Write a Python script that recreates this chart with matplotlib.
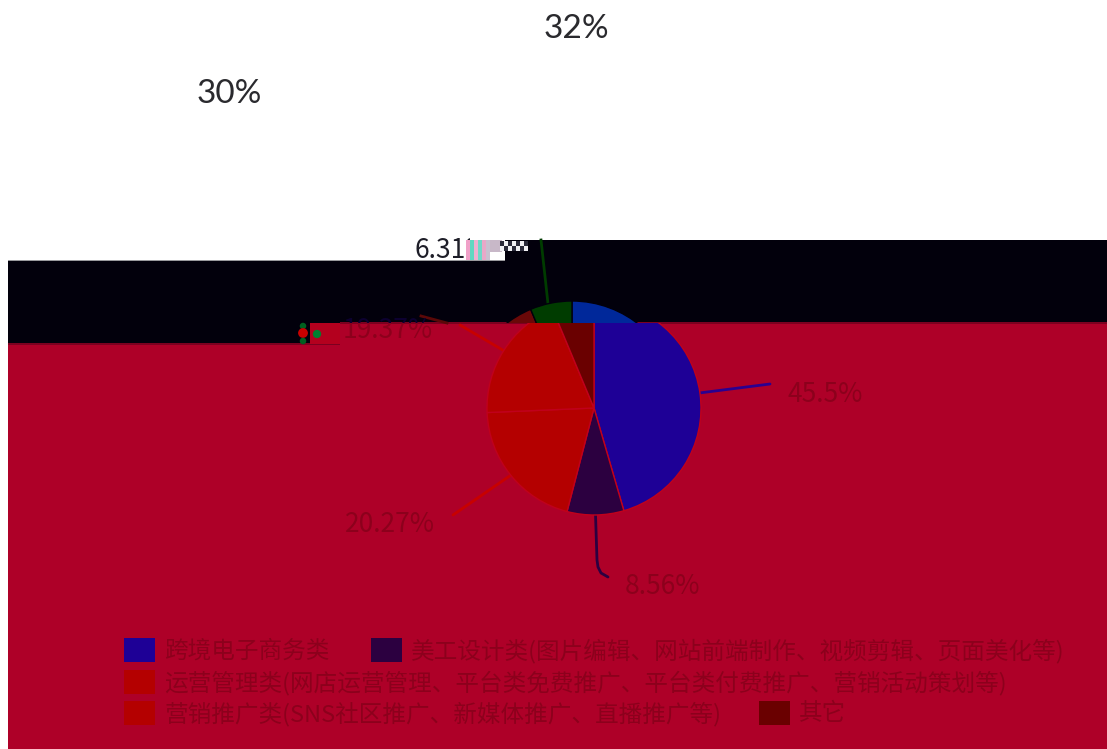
import matplotlib
matplotlib.use("Agg")
import numpy as np
import matplotlib.pyplot as plt
from matplotlib.patches import Rectangle, Polygon

# Data
shares = [45.5, 8.56, 20.27, 19.37, 6.31]
share_labels = ["45.5%", "8.56%", "20.27%", "19.37%", "6.31%"]
legend_names = ["跨境电子商务类",
                "美工设计类(图片编辑、网站前端制作、视频剪辑、页面美化等)",
                "运营管理类(网店运营管理、平台类免费推广、平台类付费推广、营销活动策划等)",
                "营销推广类(SNS社区推广、新媒体推广、直播推广等)",
                "其它"]
top_labels = ["32%", "30%"]

# Colours
WHITE = "#ffffff"
BLACK = "#02000c"
CRIMSON = "#ae0028"
TEXT_RED = "#8c001c"
main_colors = ["#1e0096", "#2c0040", "#b40000", "#b40000", "#6a0000"]
band_colors = ["#00289a", "#2c0040", "#b40000", "#6a0808", "#003c00"]

W, H = 1107, 749
CJK = ["Noto Sans CJK SC", "DejaVu Sans"]
fig = plt.figure(figsize=(W / 100, H / 100), dpi=100, facecolor=WHITE)
ax = fig.add_axes([0, 0, 1, 1])
ax.set_xlim(0, W)
ax.set_ylim(0, H)
ax.axis("off")


def py(y):
    # picture rows run downwards, the axes run upwards
    return H - y


# Background blocks: crimson page and the black displaced band
ax.add_patch(Rectangle((8, 0), W - 8, py(323), fc=CRIMSON, ec="none", zorder=1))
ax.add_patch(Polygon([(8, py(260)), (505, py(260)), (505, py(240)), (W, py(240)), (W, py(323)),
                      (340, py(323)), (340, py(344)), (8, py(344))],
                     fc=BLACK, ec="none", zorder=2))
ax.add_patch(Rectangle((8, py(261)), 497, 1, fc="#9a9a9e", ec="none", zorder=3))
ax.add_patch(Rectangle((8, py(345)), 332, 2, fc="#7c0020", ec="none", zorder=3))
ax.add_patch(Rectangle((340, py(324)), W - 340, 2, fc="#7c0020", ec="none", zorder=3))
ax.add_patch(Rectangle((310, py(344)), 30, 21, fc="#b4001e", ec="none", zorder=3))

below = Rectangle((8, 0), W - 8, py(323), transform=ax.transData)
inside = Rectangle((8, py(323)), W - 8, 83, transform=ax.transData)


def clip_to(artist, box):
    artist.set_clip_on(True)
    artist.set_clip_path(box)


# The pie, once in place and once shifted inside the band
R = 107
cx, cy = 594, 408
wedges, _ = ax.pie(shares, colors=main_colors, startangle=90, counterclock=False,
                   center=(cx, py(cy)), radius=R, frame=True,
                   wedgeprops={"edgecolor": "#c0001c", "linewidth": 1})
for w in wedges:
    w.set_zorder(4)
    clip_to(w, below)

cx2 = 572
wedges2, _ = ax.pie(shares, colors=band_colors, startangle=90, counterclock=False,
                    center=(cx2, py(cy)), radius=R, frame=True,
                    wedgeprops={"edgecolor": "#02000c", "linewidth": 1})
for w in wedges2:
    w.set_zorder(4)
    clip_to(w, inside)

ax.set_xlim(0, W)
ax.set_ylim(0, H)
ax.set_aspect("auto")
ax.axis("off")

# Leader lines start on the rim at each slice's middle angle
fractions = np.array(shares) / sum(shares)
mids = (np.cumsum(fractions) - fractions / 2) * 2 * np.pi


def rim(i, x0):
    return x0 + R * np.sin(mids[i]), py(cy) + R * np.cos(mids[i])


leader_paths = [[(770, 384)],
                [(597, 560), (598, 567), (601, 573), (608, 577)],
                [(453, 515)],
                [(460, 325)]]
leader_colors = ["#2a0090", "#2c0040", "#c80000", "#c80000"]
for i, path in enumerate(leader_paths):
    x0, y0 = rim(i, cx)
    xs = [x0] + [p[0] for p in path]
    ys = [y0] + [py(p[1]) for p in path]
    line, = ax.plot(xs, ys, color=leader_colors[i], lw=2, zorder=3.5, solid_capstyle="round")
    clip_to(line, below)

x0, y0 = rim(4, cx2)
ax.plot([x0 - 3, 541], [y0, py(240)], color="#003c00", lw=2, zorder=3.5)
ax.plot([447, 421], [py(323), py(316)], color="#5a0808", lw=2, zorder=3.5)

# Slice labels
ax.text(788, py(394), share_labels[0], color=TEXT_RED, fontsize=19, family=CJK, va="center", zorder=5)
ax.text(625, py(586), share_labels[1], color=TEXT_RED, fontsize=19, family=CJK, va="center", zorder=5)
ax.text(345, py(524), share_labels[2], color=TEXT_RED, fontsize=19, family=CJK, va="center", zorder=5)
t = ax.text(343, py(331), share_labels[3], color=TEXT_RED, fontsize=19, family=CJK, va="center", zorder=5)
clip_to(t, below)
t = ax.text(343, py(331), share_labels[3], color="#0c0030", fontsize=19, family=CJK, va="center", zorder=5)
clip_to(t, inside)
t = ax.text(414, py(251), share_labels[4], color="#1e1e28", fontsize=19, family=CJK, va="center", zorder=5)
clip_to(t, Rectangle((0, py(262)), 470, 40, transform=ax.transData))

# Broken bits beside the 6.31% label
stripe_colors = ["#f0a0c8", "#60d8c0", "#f0b0d0", "#70d8c8", "#e8a8c8", "#c8c0d0"]
for k, c in enumerate(stripe_colors):
    ax.add_patch(Rectangle((466 + 4 * k, py(260)), 4, 20, fc=c, ec="none", zorder=6))
ax.add_patch(Rectangle((490, py(252)), 12, 12, fc="#c8b8c8", ec="none", zorder=6))
for k in range(7):
    for j in range(2):
        if (k + j) % 2 == 0:
            ax.add_patch(Rectangle((500 + 4 * k, py(246 + 5 * j)), 4, 5, fc="#2a2a3a", ec="none", zorder=6))
        else:
            ax.add_patch(Rectangle((500 + 4 * k, py(246 + 5 * j)), 4, 5, fc="#f0f0f4", ec="none", zorder=6))
ax.scatter([303, 303, 303, 317], [py(326), py(333), py(341), py(334)], s=[22, 50, 22, 36],
           c=["#006020", "#c80000", "#006020", "#008030"], linewidths=0, zorder=6)

# Flowing legend, three rows
swatch_x = [124, 371, 124, 124, 759]
swatch_y = [638, 638, 670, 701, 701]
text_x = [164, 411, 164, 164, 799]
for i, name in enumerate(legend_names):
    ax.add_patch(Rectangle((swatch_x[i], py(swatch_y[i] + 24)), 31, 24,
                           fc=main_colors[i], ec="none", zorder=5))
    ax.text(text_x[i], py(swatch_y[i] + 13), name, color=TEXT_RED, fontsize=17, family=CJK,
            va="center", zorder=5)

# Big figures in the white part
ax.text(576, py(29), top_labels[0], color="#2a2a2e", fontsize=24, family="Lato", weight="normal",
        ha="center", va="center", zorder=5)
ax.text(229, py(94), top_labels[1], color="#2a2a2e", fontsize=24, family="Lato", weight="normal",
        ha="center", va="center", zorder=5)

fig.savefig("out.png", dpi=100, facecolor=WHITE)
